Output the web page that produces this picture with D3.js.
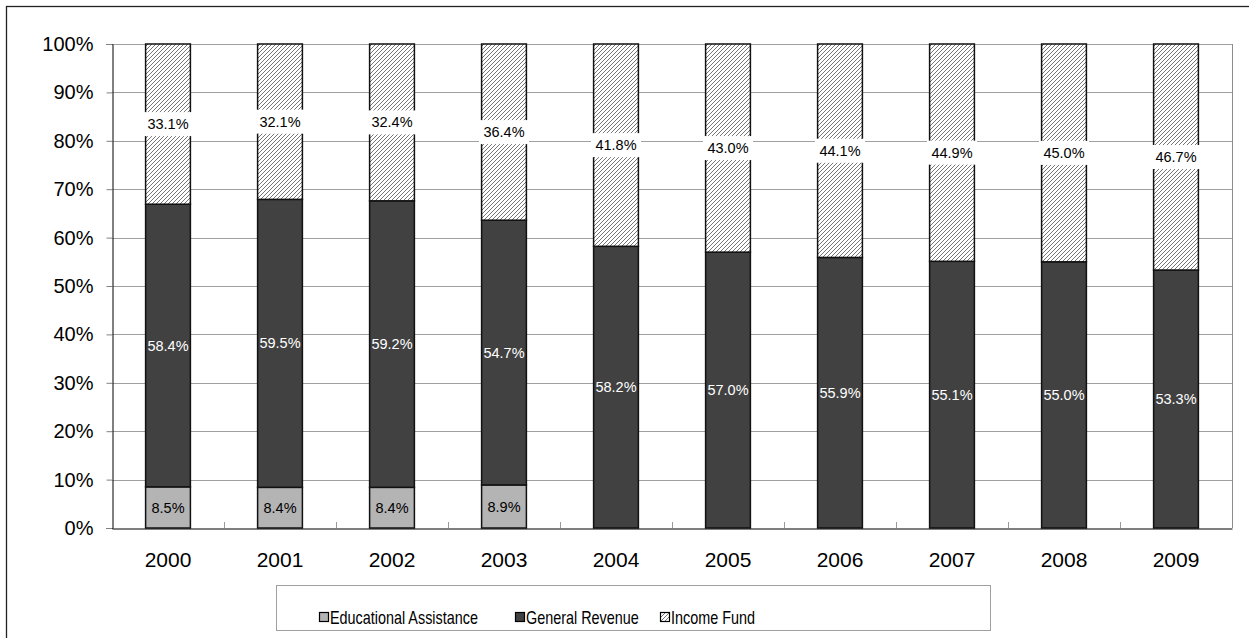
<!DOCTYPE html>
<html>
<head>
<meta charset="utf-8">
<script src="https://cdn.jsdelivr.net/npm/d3@7"></script>
<style>
  body { margin: 0; background: #fff; }
  text { font-family: Arial, "Liberation Sans", sans-serif; }
</style>
</head>
<body>
<div id="chart"></div>
<script>
// chart values
const years = ["2000", "2001", "2002", "2003", "2004", "2005", "2006", "2007", "2008", "2009"];
const seriesNames = ["Educational Assistance", "General Revenue", "Income Fund"];
const educational = [8.5, 8.4, 8.4, 8.9, 0, 0, 0, 0, 0, 0];
const generalRevenue = [58.4, 59.5, 59.2, 54.7, 58.2, 57.0, 55.9, 55.1, 55.0, 53.3];
const incomeFund = [33.1, 32.1, 32.4, 36.4, 41.8, 43.0, 44.1, 44.9, 45.0, 46.7];
const yTicks = [0, 10, 20, 30, 40, 50, 60, 70, 80, 90, 100];

const width = 1249, height = 638;
const margin = {top: 44, right: 17, bottom: 110, left: 112};

const svg = d3.select("#chart").append("svg")
    .attr("width", width)
    .attr("height", height);

// hatch for income fund
const defs = svg.append("defs");
const pat = defs.append("pattern")
    .attr("id", "hatch")
    .attr("patternUnits", "userSpaceOnUse")
    .attr("width", 4)
    .attr("height", 4);
pat.append("rect").attr("width", 4).attr("height", 4).attr("fill", "#fff");
pat.append("path")
    .attr("d", "M-1,1 l2,-2 M0,4 l4,-4 M3,5 l2,-2")
    .attr("stroke", "#666")
    .attr("stroke-width", 0.9);

// outer frame
svg.append("rect")
    .attr("x", 6.5).attr("y", 6.5)
    .attr("width", width + 10).attr("height", height + 10)
    .attr("fill", "none")
    .attr("stroke", "#222")
    .attr("stroke-width", 1.3);

const x = d3.scaleBand()
    .domain(years)
    .range([margin.left, width - margin.right])
    .paddingInner(0.6)
    .paddingOuter(0.3);

const y = d3.scaleLinear()
    .domain([0, 100])
    .range([height - margin.bottom, margin.top]);

// gridlines
svg.append("g")
    .selectAll("line")
    .data(yTicks.filter(d => d > 0))
    .join("line")
    .attr("x1", margin.left).attr("x2", width - margin.right)
    .attr("y1", d => Math.round(y(d)) + 0.5).attr("y2", d => Math.round(y(d)) + 0.5)
    .attr("stroke", "#a0a0a0");

// plot area right border
svg.append("line")
    .attr("x1", width - margin.right + 0.5).attr("x2", width - margin.right + 0.5)
    .attr("y1", margin.top).attr("y2", y(0))
    .attr("stroke", "#8c8c8c");

// y axis
const yAxis = svg.append("g")
    .attr("transform", `translate(${margin.left + 0.5},0)`)
    .call(d3.axisLeft(y).tickValues(yTicks).tickFormat(d => d + "%").tickSize(6).tickPadding(13));
yAxis.select(".domain").attr("stroke", "#000");
yAxis.selectAll(".tick line").attr("stroke", "#808080");
yAxis.selectAll("text").attr("font-size", 20).attr("fill", "#000");

// stack
const rows = years.map((yr, i) => ({
    year: yr,
    "Educational Assistance": educational[i],
    "General Revenue": generalRevenue[i],
    "Income Fund": incomeFund[i]
}));
const stacked = d3.stack().keys(seriesNames)(rows);
const fills = {
    "Educational Assistance": "#b4b4b4",
    "General Revenue": "#414141",
    "Income Fund": "url(#hatch)"
};

const layers = svg.append("g").selectAll("g")
    .data(stacked)
    .join("g")
    .attr("fill", d => fills[d.key]);

layers.selectAll("rect")
    .data(d => d.filter(s => s[1] - s[0] > 0))
    .join("rect")
    .attr("x", d => x(d.data.year))
    .attr("y", d => y(d[1]))
    .attr("width", x.bandwidth())
    .attr("height", d => y(d[0]) - y(d[1]))
    .attr("stroke", "#111")
    .attr("stroke-width", 1.5);

// x axis
const xAxis = svg.append("g")
    .attr("transform", `translate(0,${y(0) + 0.5})`)
    .call(d3.axisBottom(x).tickSize(0).tickPadding(24));
xAxis.select(".domain").attr("stroke", "#000");
xAxis.selectAll("text").attr("font-size", 21).attr("fill", "#000");

// category separators (small ticks on baseline)
svg.append("g")
    .selectAll("line")
    .data(years.slice(1))
    .join("line")
    .attr("x1", d => Math.round(x(d) - x.step() * x.paddingInner() / 2) + 0.5)
    .attr("x2", d => Math.round(x(d) - x.step() * x.paddingInner() / 2) + 0.5)
    .attr("y1", y(0) - 6).attr("y2", y(0))
    .attr("stroke", "#999");

// data labels
const labels = svg.append("g").attr("font-size", 14.5);
stacked.forEach(layer => {
    layer.filter(s => s[1] - s[0] > 0).forEach(s => {
        const cx = x(s.data.year) + x.bandwidth() / 2;
        const cy = y((s[0] + s[1]) / 2);
        const txt = (s[1] - s[0]).toFixed(1) + "%";
        if (layer.key === "Income Fund") {
            labels.append("rect")
                .attr("x", cx - 25).attr("y", cy - 12)
                .attr("width", 50).attr("height", 24)
                .attr("fill", "#fff");
        }
        labels.append("text")
            .attr("x", cx).attr("y", cy)
            .attr("dy", "0.35em")
            .attr("text-anchor", "middle")
            .attr("fill", layer.key === "General Revenue" ? "#fff" : "#000")
            .text(txt);
    });
});

// legend
const legend = svg.append("g");
legend.append("rect")
    .attr("x", 276.5).attr("y", 585.5)
    .attr("width", 714).attr("height", 45)
    .attr("fill", "#fff")
    .attr("stroke", "#a0a0a0");

const legendX = [319, 515, 660];
const items = legend.selectAll("g.item")
    .data(seriesNames)
    .join("g")
    .attr("class", "item")
    .attr("transform", (d, i) => `translate(${legendX[i]},618)`);
items.append("rect")
    .attr("x", 0.5).attr("y", -5.5)
    .attr("width", 9).attr("height", 9)
    .attr("fill", d => fills[d])
    .attr("stroke", "#000")
    .attr("stroke-width", 1.2);
// legend type in the source is narrow
items.append("text")
    .attr("transform", "translate(11,0) scale(0.8,1)")
    .attr("dy", "0.35em")
    .attr("font-size", 18)
    .attr("fill", "#000")
    .text(d => d);
</script>
</body>
</html>
